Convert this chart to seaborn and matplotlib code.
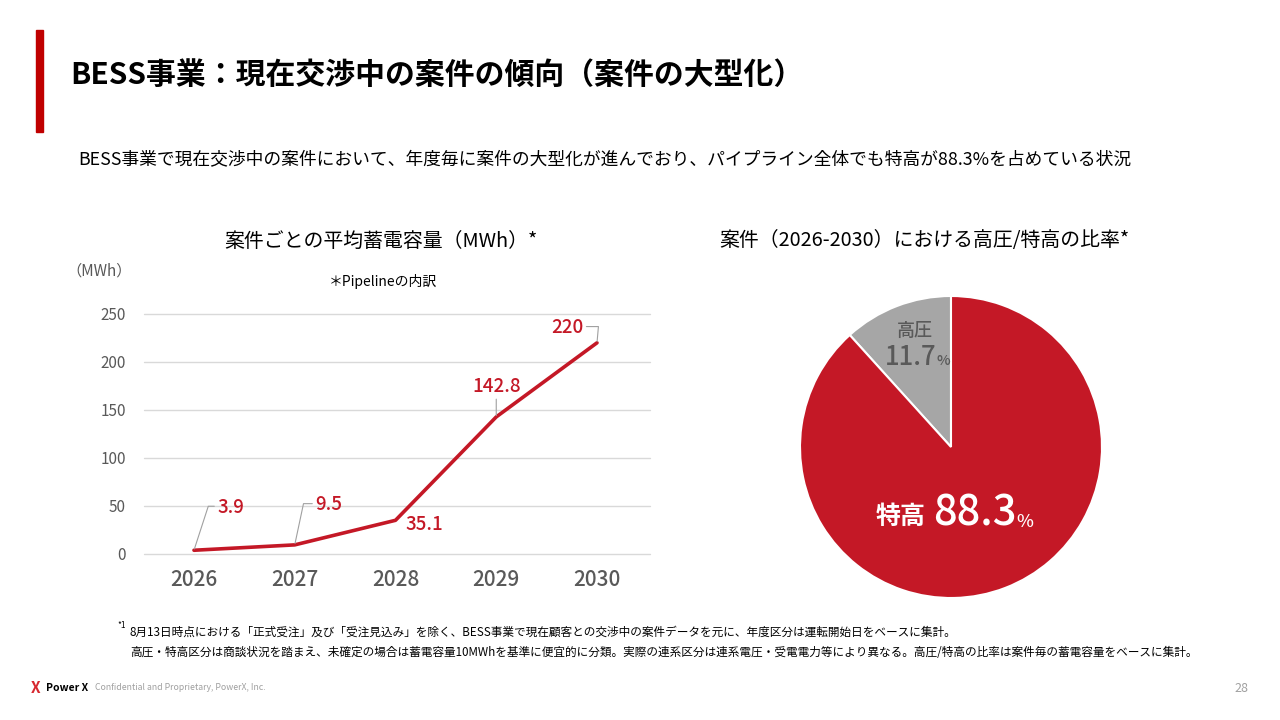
import matplotlib
matplotlib.use("Agg")
import matplotlib.pyplot as plt
import seaborn as sns
import pandas as pd
from matplotlib.patches import Rectangle

# data
years = ["2026", "2027", "2028", "2029", "2030"]
avg_mwh = [3.9, 9.5, 35.1, 142.8, 220]
pie_labels = ["高圧", "特高"]
pie_shares = [11.7, 88.3]
y_ticks = [0, 50, 100, 150, 200, 250]

RED = "#C41826"
GREY_PIE = "#A6A6A6"
DARK = "#595959"
GRID = "#D9D9D9"

sns.set_theme(style="white")
CJK = ["Noto Sans CJK JP", "DejaVu Sans"]
NUM = ["Noto Sans CJK JP", "DejaVu Sans"]
plt.rcParams["font.family"] = CJK

fig = plt.figure(figsize=(12.8, 7.2), dpi=100)
fig.patch.set_facecolor("white")

# header
fig.patches.append(Rectangle((36 / 1280, 1 - 132 / 720), 7 / 1280, 102 / 720,
                             transform=fig.transFigure, color="#C00000"))
fig.text(70 / 1280, 1 - 75 / 720, "BESS事業：現在交渉中の案件の傾向（案件の大型化）",
         fontsize=21.5, fontweight="bold", color="black", va="center")
fig.text(78 / 1280, 1 - 160 / 720,
         "BESS事業で現在交渉中の案件において、年度毎に案件の大型化が進んでおり、パイプライン全体でも特高が88.3%を占めている状況",
         fontsize=12.8, color="black", va="center")

# chart titles
fig.text(381 / 1280, 1 - 241 / 720, "案件ごとの平均蓄電容量（MWh）*", fontsize=14.3,
         color="black", ha="center", va="center")
fig.text(924 / 1280, 1 - 241 / 720, "案件（2026-2030）における高圧/特高の比率*", fontsize=14.3,
         color="black", ha="center", va="center")
fig.text(66 / 1280, 1 - 271 / 720, "（MWh）", fontsize=11, color=DARK, va="center")
fig.text(383 / 1280, 1 - 282 / 720, "＊Pipelineの内訳", fontsize=10, color="black",
         ha="center", va="center")

# line chart
ax = fig.add_axes([144 / 1280, 1 - 554 / 720, 506 / 1280, 240 / 720])
df = pd.DataFrame({"pos": range(len(years)), "mwh": avg_mwh})
sns.lineplot(data=df, x="pos", y="mwh", ax=ax, color=RED, linewidth=2.6)
ax.set_xlim(-0.496, 4.526)
ax.set_ylim(0, 250)
ax.set_xticks(range(len(years)))
ax.set_xticklabels(years, family=NUM, fontsize=15, color=DARK, fontweight="medium")
ax.set_yticks(y_ticks)
ax.set_yticklabels([str(t) for t in y_ticks], family=NUM, fontsize=11, color=DARK)
ax.tick_params(axis="x", length=0, pad=11)
ax.tick_params(axis="y", length=0, pad=13)
ax.yaxis.grid(True, color=GRID, linewidth=1)
for gl in ax.get_ygridlines():
    gl.set_clip_on(False)
ax.set_axisbelow(True)
for s in ax.spines.values():
    s.set_visible(False)
ax.set_xlabel("")
ax.set_ylabel("")
ax.patch.set_alpha(0)

lead = dict(arrowstyle="-", color="#A0A0A0", lw=0.8, shrinkA=0, shrinkB=1)
lab = dict(family=NUM, fontsize=13.5, color=RED, fontweight="medium",
           textcoords="offset points")
# (offset, alignment, leader connection)
ann = [
    ((17, 31), "left", "angle,angleA=180,angleB=72,rad=0"),
    ((15, 29), "left", "angle,angleA=180,angleB=78,rad=0"),
    ((7, -3), "left", None),
    ((0, 22), "center", "arc3,rad=0"),
    ((-10, 11), "right", "angle,angleA=0,angleB=85,rad=0"),
]
for i, (v, (off, ha, conn)) in enumerate(zip(avg_mwh, ann)):
    label = f"{v:g}"
    if conn is None:
        ax.annotate(label, xy=(i, v), xytext=off, ha=ha, va="center", **lab)
    elif ha == "center":
        ax.annotate(label, xy=(i, v), xytext=off, ha=ha, va="center", **lab,
                    arrowprops=dict(**lead, connectionstyle=conn, relpos=(0.5, 0)))
    else:
        rel = (0, 0.55) if ha == "left" else (1, 0.55)
        ax.annotate(label, xy=(i, v), xytext=off, ha=ha, va="center", **lab,
                    arrowprops=dict(**lead, connectionstyle=conn, relpos=rel))

# pie chart
pax = fig.add_axes([800 / 1280, 1 - 598 / 720, 302 / 1280, 302 / 720])
pax.pie(pie_shares, colors=[GREY_PIE, RED], startangle=90, counterclock=True,
        radius=1, wedgeprops=dict(edgecolor="white", linewidth=1.5))
pax.set_xlim(-1, 1)
pax.set_ylim(-1, 1)
pax.set_aspect("equal")
pax.axis("off")

pax.text(-0.24, 0.77, pie_labels[0], fontsize=13, color=DARK, ha="center", va="center",
         fontweight="medium")
t1 = pax.text(-0.44, 0.595, f"{pie_shares[0]:.1f}", family=NUM, fontsize=18.5,
              color=DARK, ha="left", va="center", fontweight="medium")
pax.annotate("%", xy=(1, 0.1), xycoords=t1, fontsize=10.5, family=NUM, color=DARK,
             ha="left", va="bottom", fontweight="medium")
pax.text(-0.17, -0.46, pie_labels[1], fontsize=18, color="white", ha="right",
         va="center", fontweight="bold")
t2 = pax.text(-0.12, -0.44, f"{pie_shares[1]:.1f}", family=NUM, fontsize=30,
              color="white", ha="left", va="center", fontweight="medium")
pax.annotate("%", xy=(1, 0.1), xycoords=t2, fontsize=13, family=NUM, color="white",
             ha="left", va="bottom", fontweight="medium")

# footnotes
fig.text(117 / 1280, 1 - 626 / 720, "*1", fontsize=6, color="black", va="center")
fig.text(130 / 1280, 1 - 632 / 720,
         "8月13日時点における「正式受注」及び「受注見込み」を除く、BESS事業で現在顧客との交渉中の案件データを元に、年度区分は運転開始日をベースに集計。",
         fontsize=8.4, color="black", va="center")
fig.text(130 / 1280, 1 - 652 / 720,
         "高圧・特高区分は商談状況を踏まえ、未確定の場合は蓄電容量10MWhを基準に便宜的に分類。実際の連系区分は連系電圧・受電電力等により異なる。高圧/特高の比率は案件毎の蓄電容量をベースに集計。",
         fontsize=8.4, color="black", va="center")

# footer
fig.text(31 / 1280, 1 - 688 / 720, "X", fontsize=11, fontweight="bold", color="#D7282F",
         va="center", family=NUM)
fig.text(46 / 1280, 1 - 688 / 720, "Power X", fontsize=7.5, fontweight="bold",
         color="black", va="center", family=NUM)
fig.text(95 / 1280, 1 - 688 / 720, "Confidential and Proprietary, PowerX, Inc.",
         fontsize=6.3, color="#A0A0A0", va="center", family=NUM)
fig.text(1248 / 1280, 1 - 688 / 720, "28", fontsize=9, color="#A0A0A0",
         va="center", ha="right", family=NUM)

fig.savefig("out.png", dpi=100, facecolor="white")
